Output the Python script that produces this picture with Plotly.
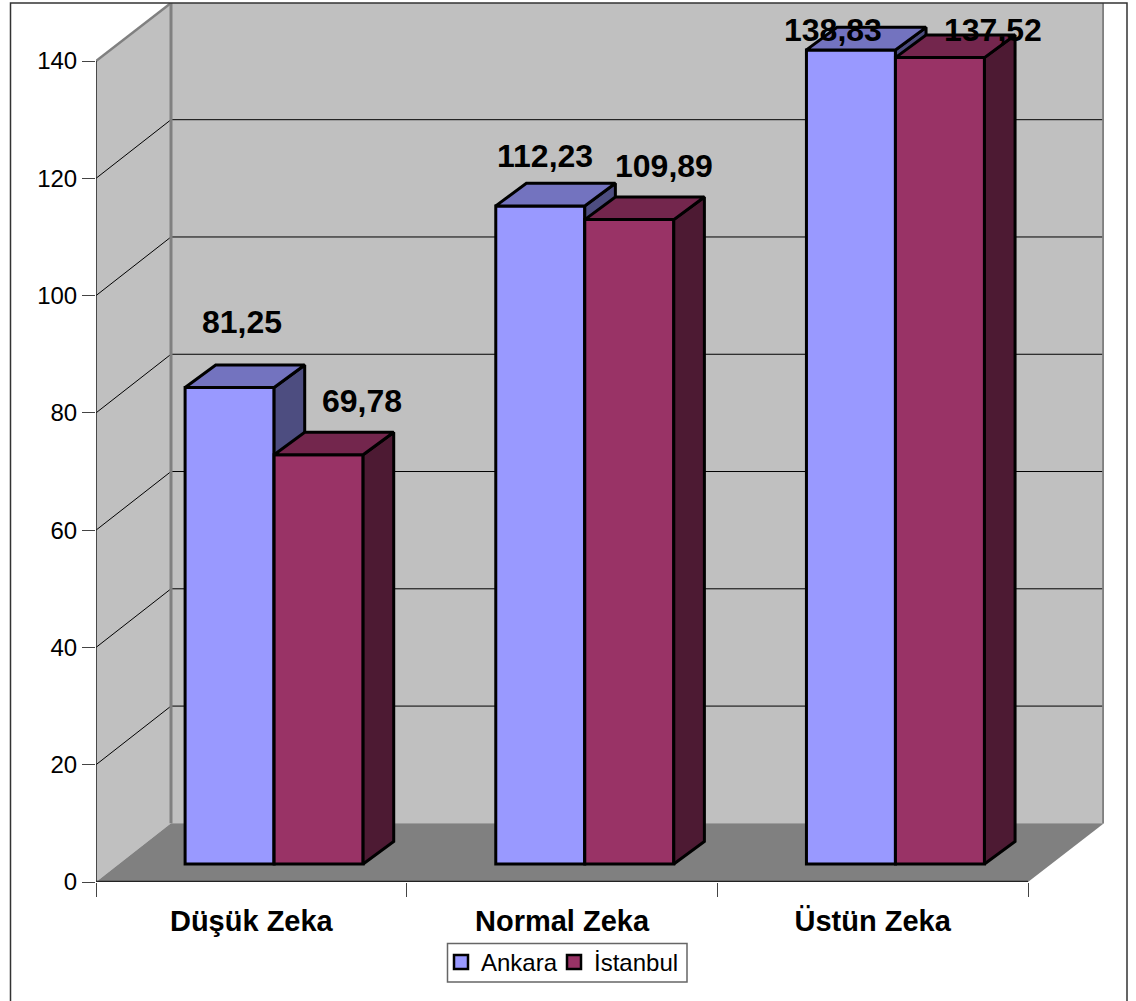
import plotly.graph_objects as go

categories = ["Düşük Zeka", "Normal Zeka", "Üstün Zeka"]
ankara = [81.25, 112.23, 138.83]
istanbul = [69.78, 109.89, 137.52]
y_ticks = [0, 20, 40, 60, 80, 100, 120, 140]
series_names = ["Ankara", "İstanbul"]

# pseudo-3D geometry, in axis units
X_MAX, Y_MAX = 3.2446, 149.9
WALL_DX, WALL_DY = 0.2414, 10.0
BAR_DX, BAR_DY = 0.0985, 3.85
BAR_W = 0.2865
BAR_BASE = 3.07
BAR_SHIFT = 0.0733
# pixel offsets of value labels from the front top centre of each bar
ankara_label_off = [(12, 66), (5, 50), (-18, 20)]
istanbul_label_off = [(43, 54), (35, 54), (53, 28)]

FONT = "Liberation Sans"
idx = list(range(len(categories)))
ank_x = [i + 0.5 + BAR_SHIFT - BAR_W / 2 for i in idx]
ist_x = [i + 0.5 + BAR_SHIFT + BAR_W / 2 for i in idx]
front_colors = ["#9999ff", "#993366"]


def polygon(points):
    xs = [p[0] for p in points] + [points[0][0], None]
    ys = [p[1] for p in points] + [points[0][1], None]
    return xs, ys


def faces(xc, values):
    top_x, top_y, side_x, side_y = [], [], [], []
    for x, v in zip(xc, values):
        t = BAR_BASE + v
        l, r = x - BAR_W / 2, x + BAR_W / 2
        a, b = polygon([(l, t), (r, t), (r + BAR_DX, t + BAR_DY), (l + BAR_DX, t + BAR_DY)])
        top_x += a
        top_y += b
        a, b = polygon([(r, BAR_BASE), (r + BAR_DX, BAR_BASE + BAR_DY), (r + BAR_DX, t + BAR_DY), (r, t)])
        side_x += a
        side_y += b
    return top_x, top_y, side_x, side_y


def add_series(fig, name, xc, values, front, top, side, xa, ya):
    fig.add_trace(go.Bar(
        x=xc, y=values, base=BAR_BASE, width=BAR_W, name=name, showlegend=False,
        marker=dict(color=front, line=dict(color="black", width=3)),
        xaxis=xa, yaxis=ya,
    ))
    tx, ty, sx, sy = faces(xc, values)
    for xs, ys, col in ((sx, sy, side), (tx, ty, top)):
        fig.add_trace(go.Scatter(
            x=xs, y=ys, mode="lines", fill="toself", fillcolor=col,
            line=dict(color="black", width=3), showlegend=False,
            hoverinfo="skip", xaxis=xa, yaxis=ya,
        ))


fig = go.Figure()
add_series(fig, series_names[0], ank_x, ankara, front_colors[0], "#7373bf", "#4d4d80", "x", "y")
add_series(fig, series_names[1], ist_x, istanbul, front_colors[1], "#73264d", "#4d1a33", "x2", "y2")

# legend keys: one native legend per series so their spacing can match the reference
for name, col, leg in zip(series_names, front_colors, ("legend", "legend2")):
    fig.add_trace(go.Scatter(
        x=[None], y=[None], mode="markers", name=name, legend=leg,
        marker=dict(symbol="square", size=14, color=col, line=dict(color="black", width=2.5)),
        xaxis="x2", yaxis="y2",
    ))

shapes = []


def poly_path(points):
    return "M " + " L ".join(f"{x},{y}" for x, y in points) + " Z"


WALL = "#c0c0c0"
EDGE = "#808080"
# side wall, back wall, floor
shapes.append(dict(type="path", xref="x", yref="y", layer="below", fillcolor=WALL, line_width=0,
                   path=poly_path([(0, 0), (WALL_DX, WALL_DY), (WALL_DX, Y_MAX), (0, 140)])))
shapes.append(dict(type="rect", xref="x", yref="y", layer="below", fillcolor=WALL, line_width=0,
                   x0=WALL_DX, x1=X_MAX, y0=WALL_DY, y1=Y_MAX))
shapes.append(dict(type="path", xref="x", yref="y", layer="below", fillcolor=EDGE, line_width=0,
                   path=poly_path([(0, 0), (3, 0), (X_MAX, WALL_DY), (WALL_DX, WALL_DY)])))
# gridlines
for v in y_ticks[1:-1]:
    shapes.append(dict(type="line", xref="x", yref="y", layer="below", line=dict(color="black", width=1),
                       x0=0, y0=v, x1=WALL_DX, y1=v + WALL_DY))
    shapes.append(dict(type="line", xref="x", yref="y", layer="below", line=dict(color="black", width=1),
                       x0=WALL_DX, y0=v + WALL_DY, x1=X_MAX, y1=v + WALL_DY))
# wall edges
shapes.append(dict(type="line", xref="x", yref="y", layer="below", line=dict(color=EDGE, width=3),
                   x0=WALL_DX, x1=WALL_DX, y0=WALL_DY, y1=Y_MAX))
shapes.append(dict(type="line", xref="x", yref="y", layer="below", line=dict(color=EDGE, width=2.5),
                   x0=0, y0=140, x1=WALL_DX, y1=Y_MAX))
shapes.append(dict(type="line", xref="x", yref="y", layer="below", line=dict(color=EDGE, width=2.5),
                   x0=X_MAX - 0.002, x1=X_MAX - 0.002, y0=WALL_DY, y1=Y_MAX))
# axis lines
shapes.append(dict(type="line", xref="x", yref="y", layer="below", line=dict(color="#222222", width=1.5),
                   x0=0, x1=0, y0=0, y1=140))
shapes.append(dict(type="line", xref="x", yref="y", layer="below", line=dict(color="#222222", width=2.5),
                   x0=0, x1=3, y0=0, y1=0))
# outer frame and legend box
ML, MR, MT, MB = 96, 32, 3, 119
PW, PH = 1136 - ML - MR, 1001 - MT - MB
BOTTOM = 1001 - MB


def px_x(p):
    return (p - ML) / PW


def px_y(p):
    return (BOTTOM - p) / PH


shapes.append(dict(type="rect", xref="paper", yref="paper", layer="above",
                   line=dict(color="#333333", width=1.5), fillcolor="rgba(0,0,0,0)",
                   x0=px_x(10.5), x1=px_x(1127), y0=px_y(1010), y1=px_y(3)))
shapes.append(dict(type="rect", xref="paper", yref="paper", layer="above",
                   line=dict(color="#666666", width=1.5), fillcolor="white",
                   x0=px_x(447.5), x1=px_x(687), y0=px_y(982), y1=px_y(943.5)))

annotations = []
for xc, vals, offs in ((ank_x, ankara, ankara_label_off), (ist_x, istanbul, istanbul_label_off)):
    for x, v, (dx, dy) in zip(xc, vals, offs):
        annotations.append(dict(
            x=x, y=BAR_BASE + v, xref="x", yref="y", text=f"{v:.2f}".replace(".", ","),
            showarrow=False, xshift=dx, yshift=dy, xanchor="center", yanchor="middle",
            font=dict(family=FONT, size=32, color="black", weight=700),
        ))

legend_common = dict(orientation="h", xanchor="left", yanchor="top", y=px_y(940),
                     bgcolor="rgba(0,0,0,0)", borderwidth=0,
                     font=dict(size=24, family=FONT, color="black"), itemclick=False)

fig.update_layout(
    width=1136, height=1001, autosize=False,
    margin=dict(l=ML, r=MR, t=MT, b=MB),
    paper_bgcolor="white", plot_bgcolor="rgba(0,0,0,0)",
    font=dict(family=FONT, color="black"),
    barmode="overlay",
    shapes=shapes, annotations=annotations,
    xaxis=dict(range=[0, X_MAX], tickmode="array", tickvals=[0, 1, 2, 3], ticktext=["", "", "", ""],
               ticks="outside", ticklen=14, tickcolor="#444444", tickwidth=1,
               showgrid=False, zeroline=False, showline=False),
    yaxis=dict(range=[0, Y_MAX], tickmode="array", tickvals=y_ticks,
               ticks="outside", ticklen=13, tickcolor="#444444", tickwidth=1,
               tickfont=dict(size=24, family=FONT, color="black"),
               showgrid=False, zeroline=False, showline=False),
    xaxis2=dict(range=[0, X_MAX], overlaying="x", anchor="y2", side="bottom",
                tickmode="array", tickvals=[i + 0.5 for i in idx], ticktext=categories,
                ticks="outside", ticklen=13, tickcolor="rgba(0,0,0,0)",
                tickfont=dict(size=29, family=FONT, color="black", weight=700),
                showgrid=False, zeroline=False, showline=False),
    yaxis2=dict(range=[0, Y_MAX], overlaying="y", anchor="x2", visible=False,
                showgrid=False, zeroline=False),
    legend=dict(x=px_x(441), **legend_common),
    legend2=dict(x=px_x(554), **legend_common),
    showlegend=True,
)

fig.write_html("out.html", config={"displayModeBar": False},
               post_script="document.body.style.margin='0';document.body.style.overflow='hidden';")
